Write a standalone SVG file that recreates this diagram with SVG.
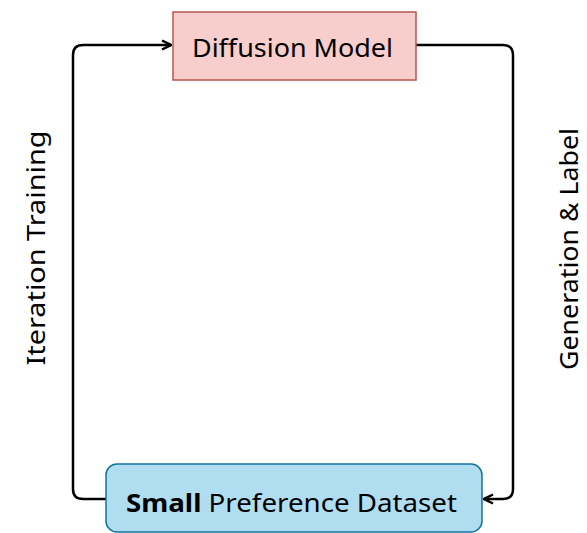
<svg xmlns="http://www.w3.org/2000/svg" width="587" height="533" viewBox="0 0 587 533">
<style>
.lbl{font-family:"Noto Sans","DejaVu Sans",sans-serif;font-size:25px;fill:#000}
.edge{fill:none;stroke:#000;stroke-width:2.5;stroke-linejoin:round}
</style>
<defs>
<marker id="arr" viewBox="0 0 12 12" refX="11" refY="6" markerWidth="12" markerHeight="12" markerUnits="userSpaceOnUse" orient="auto">
<path d="M2,1.5 L11,6 L2,10.5" fill="none" stroke="#000" stroke-width="2.5" stroke-linejoin="miter"/>
</marker>
</defs>
<rect width="587" height="533" fill="#fff"/>
<g id="connectors">
<path class="edge" d="M106,499 H83 Q73,499 73,489 V55 Q73,45 83,45 H171" marker-end="url(#arr)"/>
<path class="edge" d="M416,45 H503 Q513,45 513,55 V489 Q513,499 503,499 H484" marker-end="url(#arr)"/>
</g>
<g id="node-diffusion">
<rect x="173" y="12" width="243" height="68" fill="#f8cecc" stroke="#b85450" stroke-width="1.5"/>
<text class="lbl" x="292.5" y="57" text-anchor="middle" textLength="201" lengthAdjust="spacingAndGlyphs">Diffusion Model</text>
</g>
<g id="node-dataset">
<rect x="106" y="464" width="376" height="68" rx="11" fill="#b1ddf0" stroke="#10739e" stroke-width="1.5"/>
<text class="lbl" x="291.5" y="512" text-anchor="middle" textLength="331" lengthAdjust="spacingAndGlyphs"><tspan font-weight="bold">Small</tspan> Preference Dataset</text>
</g>
<g id="label-iteration">
<text class="lbl" transform="translate(45,248) rotate(-90)" text-anchor="middle" textLength="235" lengthAdjust="spacingAndGlyphs">Iteration Training</text>
</g>
<g id="label-generation">
<text class="lbl" transform="translate(578,249) rotate(-90)" text-anchor="middle" textLength="242" lengthAdjust="spacingAndGlyphs">Generation &amp; Label</text>
</g>
</svg>
